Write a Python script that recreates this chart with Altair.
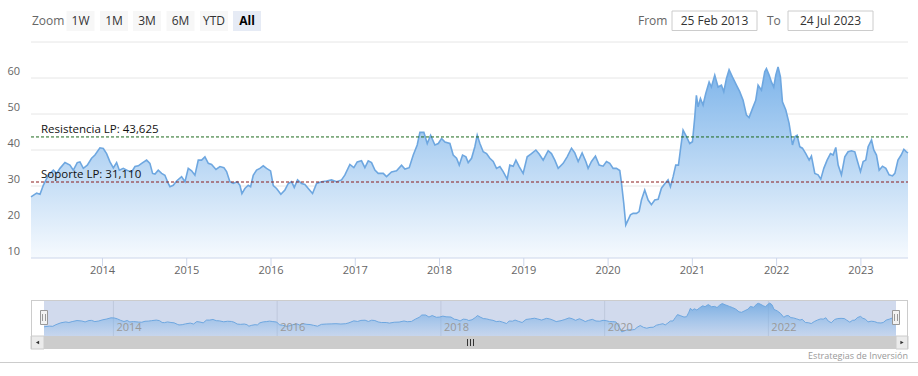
import altair as alt
import pandas as pd

# ---------------- data ----------------
t = [
    2013.152, 2013.219, 2013.259, 2013.298, 2013.357, 2013.417, 2013.456, 2013.496, 2013.555, 2013.614,
    2013.654, 2013.701, 2013.733, 2013.773, 2013.820, 2013.871, 2013.911, 2013.970, 2014.010, 2014.049,
    2014.089, 2014.129, 2014.168, 2014.200, 2014.247, 2014.306, 2014.346, 2014.386, 2014.425, 2014.465,
    2014.524, 2014.563, 2014.595, 2014.623, 2014.662, 2014.702, 2014.741, 2014.781, 2014.801, 2014.840,
    2014.880, 2014.939, 2014.979, 2015.018, 2015.058, 2015.097, 2015.137, 2015.176, 2015.216, 2015.256,
    2015.295, 2015.347, 2015.394, 2015.441, 2015.473, 2015.512, 2015.552, 2015.599, 2015.631, 2015.655,
    2015.690, 2015.730, 2015.758, 2015.789, 2015.829, 2015.868, 2015.908, 2015.947, 2015.995, 2016.027,
    2016.066, 2016.117, 2016.165, 2016.205, 2016.244, 2016.276, 2016.315, 2016.363, 2016.402, 2016.442,
    2016.493, 2016.541, 2016.600, 2016.659, 2016.718, 2016.778, 2016.837, 2016.876, 2016.936, 2016.983,
    2017.023, 2017.074, 2017.114, 2017.154, 2017.193, 2017.233, 2017.272, 2017.332, 2017.371, 2017.430,
    2017.490, 2017.549, 2017.589, 2017.640, 2017.688, 2017.735, 2017.767, 2017.814, 2017.854, 2017.894,
    2017.945, 2017.985, 2018.024, 2018.064,
    2018.123, 2018.162, 2018.202, 2018.234, 2018.273, 2018.313, 2018.340, 2018.380, 2018.419, 2018.447,
    2018.479, 2018.518, 2018.558, 2018.597, 2018.637, 2018.676, 2018.716, 2018.755, 2018.803, 2018.834,
    2018.874, 2018.906, 2018.945, 2018.992, 2019.040, 2019.091, 2019.143, 2019.182, 2019.230, 2019.289,
    2019.328, 2019.368, 2019.408, 2019.467, 2019.514, 2019.566, 2019.605, 2019.645, 2019.692, 2019.736,
    2019.763, 2019.803, 2019.850, 2019.894, 2019.941, 2019.981, 2020.020, 2020.060, 2020.099, 2020.139,
    2020.159, 2020.186, 2020.210, 2020.238, 2020.265, 2020.297, 2020.336, 2020.368, 2020.396, 2020.435,
    2020.475, 2020.514, 2020.554, 2020.594, 2020.633, 2020.673, 2020.712, 2020.740, 2020.772, 2020.803,
    2020.835, 2020.863, 2020.890, 2020.930, 2020.969, 2021.001, 2021.029, 2021.048, 2021.068, 2021.096,
    2021.127, 2021.159, 2021.199, 2021.226, 2021.266, 2021.305, 2021.345, 2021.373, 2021.404, 2021.436,
    2021.475, 2021.523, 2021.562, 2021.602, 2021.642, 2021.673, 2021.713, 2021.752, 2021.780, 2021.820,
    2021.859, 2021.879, 2021.911, 2021.938, 2021.966, 2021.990, 2022.017, 2022.045, 2022.069, 2022.109,
    2022.148, 2022.188, 2022.216, 2022.243, 2022.275, 2022.306, 2022.346, 2022.386, 2022.413, 2022.453,
    2022.492, 2022.524, 2022.560, 2022.599, 2022.639, 2022.670, 2022.702, 2022.730, 2022.769, 2022.809,
    2022.848, 2022.888, 2022.928, 2022.955, 2022.995, 2023.027, 2023.058, 2023.086, 2023.126, 2023.153,
    2023.185, 2023.217, 2023.256, 2023.296, 2023.335, 2023.375, 2023.403, 2023.440, 2023.478, 2023.510,
    2023.540, 2023.559,
]
price = [
    27.0, 28.0, 27.7, 30.2, 33.0, 34.4, 33.5, 34.9, 36.5, 35.8,
    34.4, 36.5, 36.7, 34.9, 35.8, 37.7, 38.6, 40.6, 40.4, 39.0,
    36.7, 35.0, 36.5, 34.4, 34.9, 34.2, 33.9, 35.4, 35.6, 36.3,
    37.2, 36.3, 33.5, 33.3, 34.4, 33.5, 33.0, 30.7, 29.8, 30.2,
    31.4, 32.6, 31.2, 34.9, 34.2, 33.0, 37.2, 37.2, 38.1, 36.3,
    36.0, 34.6, 35.4, 35.1, 34.0, 31.2, 30.7, 31.2, 30.2, 27.9,
    29.3, 30.2, 29.8, 33.0, 34.4, 34.9, 35.6, 34.9, 34.2, 30.1,
    29.3, 27.7, 28.9, 30.7, 31.2, 29.6, 31.7, 30.7, 30.4, 29.3,
    27.9, 30.7, 31.2, 31.4, 31.7, 31.2, 31.7, 33.0, 36.0, 35.1,
    36.7, 37.0, 35.1, 37.0, 36.5, 34.4, 33.5, 33.5, 32.6, 33.9,
    34.2, 35.8, 34.7, 35.1, 38.6, 41.4, 44.9, 44.9, 41.8, 44.1,
    41.4, 41.8, 43.2, 42.2,
    41.8, 38.6, 37.7, 35.8, 38.6, 38.1, 36.5, 37.7, 40.9, 44.1,
    41.8, 39.5, 39.0, 37.7, 36.8, 34.9, 35.4, 34.0, 31.9, 35.8,
    35.5, 37.2, 35.4, 33.5, 38.1, 39.0, 40.0, 38.9, 37.2, 39.8,
    39.0, 37.2, 34.9, 36.3, 38.1, 40.5, 39.2, 36.8, 39.2, 36.8,
    34.9, 36.8, 38.3, 35.8, 35.5, 36.8, 36.3, 34.9, 34.9, 34.3,
    30.8, 25.2, 19.2, 20.6, 22.0, 22.4, 22.4, 22.9, 26.1, 28.9,
    26.1, 24.8, 26.1, 26.3, 29.4, 30.6, 31.7, 29.8, 32.6, 35.8,
    35.8, 40.9, 45.5, 43.7, 41.8, 42.3, 49.2, 55.2, 52.0, 54.3,
    52.5, 55.7, 58.9, 57.5, 60.8, 57.5, 58.0, 56.2, 59.8, 62.3,
    60.3, 58.0, 56.2, 53.8, 49.7, 49.0, 51.5, 53.8, 58.0, 56.6,
    61.7, 62.6, 60.8, 58.9, 57.5, 60.8, 63.1, 60.3, 53.4, 51.1,
    47.4, 41.4, 43.7, 44.1, 40.9, 40.5, 39.0, 37.2, 38.3, 33.5,
    33.1, 31.9, 34.9, 37.2, 39.0, 38.6, 40.7, 35.8, 33.1, 38.1,
    39.5, 39.8, 39.5, 37.2, 34.0, 36.8, 37.2, 40.9, 42.8, 40.0,
    38.6, 34.4, 35.5, 34.9, 33.1, 32.8, 33.5, 37.2, 38.6, 40.2,
    39.5, 39.2,
]
assert len(t) == len(price)

years = [2014, 2015, 2016, 2017, 2018, 2019, 2020, 2021, 2022, 2023]
nav_years = [2014, 2016, 2018, 2020, 2022]
grid_vals = [20, 30, 40, 50, 60, 70]
ylabel_vals = [10, 20, 30, 40, 50, 60]
axis_base = [10]
levels = [43.625, 31.110]
level_labels = ["Resistencia LP: 43,625", "Soporte LP: 31,110"]
level_colors = ["#1d6a1d", "#8b1c1c"]
buttons = ["1W", "1M", "3M", "6M", "YTD", "All"]
date_from = "25 Feb 2013"
date_to = "24 Jul 2023"
credits = "Estrategias de Inversión"

T0, T1 = 2013.152, 2023.559

# ---------------- layout / style ----------------
FONT = "Open Sans"
LINE = "#6ea7e0"
PL, PR, PT, PB = 31, 908, 42, 258          # main plot box
NL, NR, NT, NB = 44, 896, 300, 336         # navigator series box
SB_B = 349                                 # scrollbar bottom
button_cx = [80.5, 114, 147, 180.5, 214, 247]

X_MAIN = alt.Scale(domain=[T0, T1], range=[PL, PR], nice=False, zero=False)
Y_MAIN = alt.Scale(domain=[10, 70], range=[PB, PT], nice=False, zero=False)
X_NAV = alt.Scale(domain=[T0, T1], range=[NL, NR], nice=False, zero=False)
Y_NAV = alt.Scale(domain=[13, 67.7], range=[NB, NT], nice=False, zero=False)

df = pd.DataFrame({"t": t, "price": price})
one = alt.Data(values=[{}])

main_fill = alt.Gradient(
    gradient="linear",
    stops=[alt.GradientStop(color="#f6fafe", offset=0),
           alt.GradientStop(color="#7db4ea", offset=1)],
    x1=1, x2=1, y1=1, y2=0)
nav_fill = alt.Gradient(
    gradient="linear",
    stops=[alt.GradientStop(color="rgba(124,181,236,0.12)", offset=0),
           alt.GradientStop(color="rgba(110,167,224,0.85)", offset=1)],
    x1=1, x2=1, y1=1, y2=0)


def xm(field):
    return alt.X(field, scale=X_MAIN, axis=None)


def ym(field):
    return alt.Y(field, scale=Y_MAIN, axis=None)


def xn(field):
    return alt.X(field, scale=X_NAV, axis=None)


def yn(field):
    return alt.Y(field, scale=Y_NAV, axis=None)


# ---------------- main panel ----------------
grid = alt.Chart(pd.DataFrame({"g": grid_vals})).mark_rule(color="#e6e6e6", strokeWidth=1).encode(
    y=ym("g:Q"), x=alt.value(PL), x2=alt.value(PR))

area = alt.Chart(df).mark_area(fill=main_fill).encode(
    x=xm("t:Q"), y=ym("price:Q"), y2=alt.datum(10))

line = alt.Chart(df).mark_line(color=LINE, strokeWidth=1.6).encode(
    x=xm("t:Q"), y=ym("price:Q"))

axis_line = alt.Chart(pd.DataFrame({"b": axis_base})).mark_rule(color="#ccd6eb", strokeWidth=1).encode(
    y=ym("b:Q"), x=alt.value(PL), x2=alt.value(PR))

ydf = pd.DataFrame({"yr": years, "lab": [str(y) for y in years]})
xticks = alt.Chart(ydf).mark_rule(color="#ccd6eb", strokeWidth=1).encode(
    x=xm("yr:Q"), y=alt.value(PB), y2=alt.value(PB + 8))
xlabels = alt.Chart(ydf).mark_text(font=FONT, fontSize=11, color="#666666", baseline="middle").encode(
    x=xm("yr:Q"), y=alt.value(271), text="lab:N")

yldf = pd.DataFrame({"g": ylabel_vals, "lab": [str(v) for v in ylabel_vals]})
ylabels = alt.Chart(yldf).mark_text(
    font=FONT, fontSize=11, color="#666666", align="right", baseline="middle", dy=-6).encode(
    y=ym("g:Q"), x=alt.value(20), text="lab:N")

ref_layers = []
for lvl, name, col in zip(levels, level_labels, level_colors):
    ldf = pd.DataFrame({"lvl": [lvl], "name": [name]})
    ref_layers.append(alt.Chart(ldf).mark_rule(strokeDash=[3, 2], strokeWidth=1, color=col).encode(
        y=ym("lvl:Q"), x=alt.value(PL), x2=alt.value(PR)))
    ref_layers.append(alt.Chart(ldf).mark_text(font=FONT, fontSize=11.5, color="#111111",
                                               align="left", baseline="middle", dy=-7).encode(
        y=ym("lvl:Q"), x=alt.value(41), text="name:N"))

main_layers = [grid, area, line, axis_line, xticks, xlabels, ylabels] + ref_layers

# ---------------- navigator ----------------
ndf = pd.DataFrame({"yr": nav_years, "lab": [str(y) for y in nav_years]})
nav_grid = alt.Chart(ndf).mark_rule(color="#bfc8dc", strokeWidth=1).encode(
    x=xn("yr:Q"), y=alt.value(NT), y2=alt.value(NB))
nav_area = alt.Chart(df).mark_area(fill=nav_fill).encode(
    x=xn("t:Q"), y=yn("price:Q"), y2=alt.datum(13))
nav_line = alt.Chart(df).mark_line(color=LINE, strokeWidth=1).encode(
    x=xn("t:Q"), y=yn("price:Q"))
nav_labels = alt.Chart(ndf).mark_text(font=FONT, fontSize=11, color="#999999",
                                       align="left", baseline="middle", dx=3).encode(
    x=xn("yr:Q"), y=alt.value(328), text="lab:N")

nav_layers = [nav_grid, nav_area, nav_line, nav_labels]


# ---------------- decorations (range selector, scrollbar, credits) ----------------
def rect(x0, x1, y0, y1, fill, stroke=None):
    kw = {"fill": fill}
    if stroke:
        kw["stroke"] = stroke
        kw["strokeWidth"] = 1
    return alt.Chart(one).mark_rect(**kw).encode(
        x=alt.value(x0), x2=alt.value(x1), y=alt.value(y0), y2=alt.value(y1))


def text(s, x, y, size=12, color="#666666", align="left", weight="normal"):
    return alt.Chart(one).mark_text(font=FONT, fontSize=size, color=color, align=align,
                                    baseline="middle", fontWeight=weight, text=s).encode(
        x=alt.value(x), y=alt.value(y))


def hline(x0, x1, y, color="#cccccc"):
    return alt.Chart(one).mark_rule(color=color, strokeWidth=1).encode(
        x=alt.value(x0), x2=alt.value(x1), y=alt.value(y))


def vline(x, y0, y1, color="#cccccc"):
    return alt.Chart(one).mark_rule(color=color, strokeWidth=1).encode(
        x=alt.value(x), y=alt.value(y0), y2=alt.value(y1))


under = [
    rect(PL, PR, NB, SB_B, "#f2f2f2"),
    rect(NL, NR, NB, SB_B, "#cccccc"),
    rect(NL, NR, NT, NB, "rgba(102,133,194,0.3)"),
]

deco = []
deco.append(text("Zoom", 32, 21, color="#666666"))
for name, cx in zip(buttons, button_cx):
    sel = name == "All"
    deco.append(rect(cx - 14, cx + 14, 11, 31, "#e6ebf5" if sel else "#f7f7f7"))
    deco.append(text(name, cx, 20.5, color="#000000" if sel else "#333333", align="center",
                     weight="bold" if sel else "normal"))
deco.append(text("From", 638, 20.5))
deco.append(rect(672, 757, 11, 30.5, "#ffffff", "#cccccc"))
deco.append(text(date_from, 714.5, 20.5, color="#333333", align="center"))
deco.append(text("To", 767, 20.5))
deco.append(rect(788, 873, 11, 30.5, "#ffffff", "#cccccc"))
deco.append(text(date_to, 830.5, 20.5, color="#333333", align="center"))

deco.append(rect(PL, NL, NB, SB_B, "#ebebeb", "#cccccc"))
deco.append(rect(NR, PR, NB, SB_B, "#ebebeb", "#cccccc"))
deco.append(alt.Chart(one).mark_point(shape="triangle-left", filled=True, color="#333333", size=14,
                                      opacity=1).encode(x=alt.value(37.5), y=alt.value(342.5)))
deco.append(alt.Chart(one).mark_point(shape="triangle-right", filled=True, color="#333333", size=14,
                                      opacity=1).encode(x=alt.value(902), y=alt.value(342.5)))
for gx in (467.5, 470.5, 473.5):
    deco.append(vline(gx, 339, 346, "#333333"))

deco.append(hline(PL, PR, NT + 0.5))
deco.append(vline(PL + 0.5, NT, SB_B))
deco.append(vline(PR - 0.5, NT, SB_B))
for hx in (NL, NR):
    deco.append(rect(hx - 3.5, hx + 3.5, 310.5, 324.5, "#f2f2f2", "#999999"))
    deco.append(vline(hx - 1.5, 314, 321, "#999999"))
    deco.append(vline(hx + 1.5, 314, 321, "#999999"))

deco.append(text(credits, 908, 355.5, size=9, color="#999999", align="right"))
deco.append(hline(0, 918, 362.5))

chart = alt.layer(
    *under, *main_layers, *nav_layers, *deco
).resolve_scale(
    x="independent", y="independent"
).properties(
    width=918, height=376,
    autosize=alt.AutoSizeParams(type="none"),
    padding=0,
).configure_view(stroke=None)

chart.save("out.html", embed_options={"renderer": "svg", "actions": False})
